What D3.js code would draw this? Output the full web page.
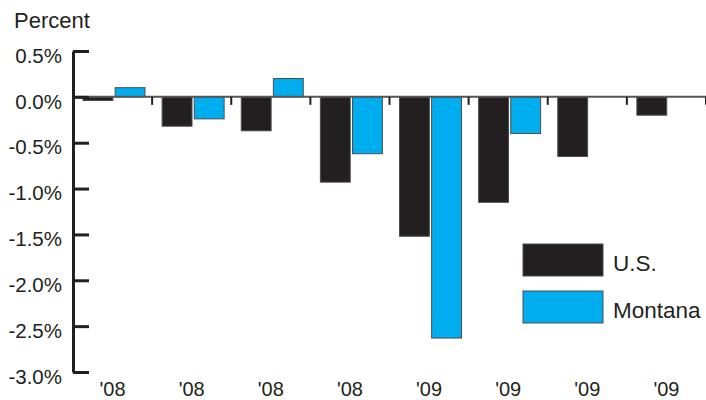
<!DOCTYPE html>
<html>
<head>
<meta charset="utf-8">
<style>
  body { margin: 0; background: #fff; }
  svg { font-family: "Liberation Sans", Arial, sans-serif; }
</style>
</head>
<body>
<svg width="706" height="400"></svg>
<script src="https://d3js.org/d3.v7.min.js"></script>
<script>
// quarters (labels only show the year)
let quarters = ["Q1 '08", "Q2 '08", "Q3 '08", "Q4 '08", "Q1 '09", "Q2 '09", "Q3 '09", "Q4 '09"];
let yearLabels = ["'08", "'08", "'08", "'08", "'09", "'09", "'09", "'09"];
let usValues = [-0.04, -0.32, -0.37, -0.93, -1.52, -1.15, -0.65, -0.2];
let montanaValues = [0.1, -0.24, 0.2, -0.62, -2.63, -0.4, null, null];
let seriesNames = ["U.S.", "Montana"];
let seriesColors = ["#231f20", "#00aeef"];
let yTicks = [0.5, 0, -0.5, -1.0, -1.5, -2.0, -2.5, -3.0];

let svg = d3.select("svg");
let ink = "#231f20";

let x = d3.scaleBand()
    .domain(quarters)
    .range([73, 706]);

let inner = d3.scaleBand()
    .domain(seriesNames)
    .range([10, 72])
    .paddingInner(0.07);

let y = d3.scaleLinear()
    .domain([-3.0, 0.5])
    .range([372, 51]);

// bars
let rows = quarters.map((q, i) => ({ q: q, vals: [usValues[i], montanaValues[i]] }));

let groups = svg.selectAll(".grp")
    .data(rows)
    .join("g")
    .attr("transform", d => "translate(" + x(d.q) + ",0)");

groups.selectAll("rect")
    .data(d => d.vals.map((v, j) => ({ name: seriesNames[j], v: v, c: seriesColors[j] })).filter(d => d.v !== null))
    .join("rect")
    .attr("x", d => inner(d.name))
    .attr("width", inner.bandwidth())
    .attr("y", d => y(Math.max(0, d.v)))
    .attr("height", d => Math.abs(y(d.v) - y(0)))
    .style("fill", d => d.c)
    .style("stroke", "#4d4d4d")
    .style("stroke-width", 1);

// zero line
svg.append("line")
    .attr("x1", 73).attr("x2", 706)
    .attr("y1", y(0)).attr("y2", y(0))
    .style("stroke", "#555")
    .style("stroke-width", 2);

// small ticks below zero line between quarters
svg.selectAll(".qtick")
    .data(quarters)
    .join("line")
    .attr("x1", d => x(d) + x.bandwidth())
    .attr("x2", d => x(d) + x.bandwidth())
    .attr("y1", y(0))
    .attr("y2", y(0) + 8)
    .style("stroke", ink)
    .style("stroke-width", 2);

// y axis
let yAxis = d3.axisLeft(y)
    .tickValues(yTicks)
    .tickSizeInner(-16)
    .tickSizeOuter(0)
    .tickPadding(11)
    .tickFormat(d => d.toFixed(1) + "%");

let ya = svg.append("g")
    .attr("transform", "translate(73,0)")
    .call(yAxis);

ya.select(".domain").style("stroke", ink).style("stroke-width", 3);
ya.selectAll(".tick line").style("stroke", ink).style("stroke-width", 3);
ya.selectAll(".tick text")
    .attr("x", -11)
    .attr("dy", "0.55em")
    .style("font-size", "20.5px")
    .style("fill", ink);

// x labels
svg.selectAll(".xlab")
    .data(quarters)
    .join("text")
    .attr("x", d => x(d) + x.bandwidth() / 2)
    .attr("y", 396)
    .attr("text-anchor", "middle")
    .style("font-size", "20px")
    .style("fill", ink)
    .text((d, i) => yearLabels[i]);

// axis title
svg.append("text")
    .attr("x", 14)
    .attr("y", 28)
    .style("font-size", "22px")
    .style("fill", ink)
    .text("Percent");

// legend
let legend = svg.selectAll(".leg")
    .data(seriesNames)
    .join("g")
    .attr("transform", (d, i) => "translate(523," + (244 + i * 47) + ")");

legend.append("rect")
    .attr("width", 80)
    .attr("height", 32)
    .style("fill", (d, i) => seriesColors[i])
    .style("stroke", "#4d4d4d")
    .style("stroke-width", 1);

legend.append("text")
    .attr("x", 90)
    .attr("y", 27)
    .style("font-size", "22.5px")
    .style("fill", ink)
    .text(d => d);
</script>
</body>
</html>
